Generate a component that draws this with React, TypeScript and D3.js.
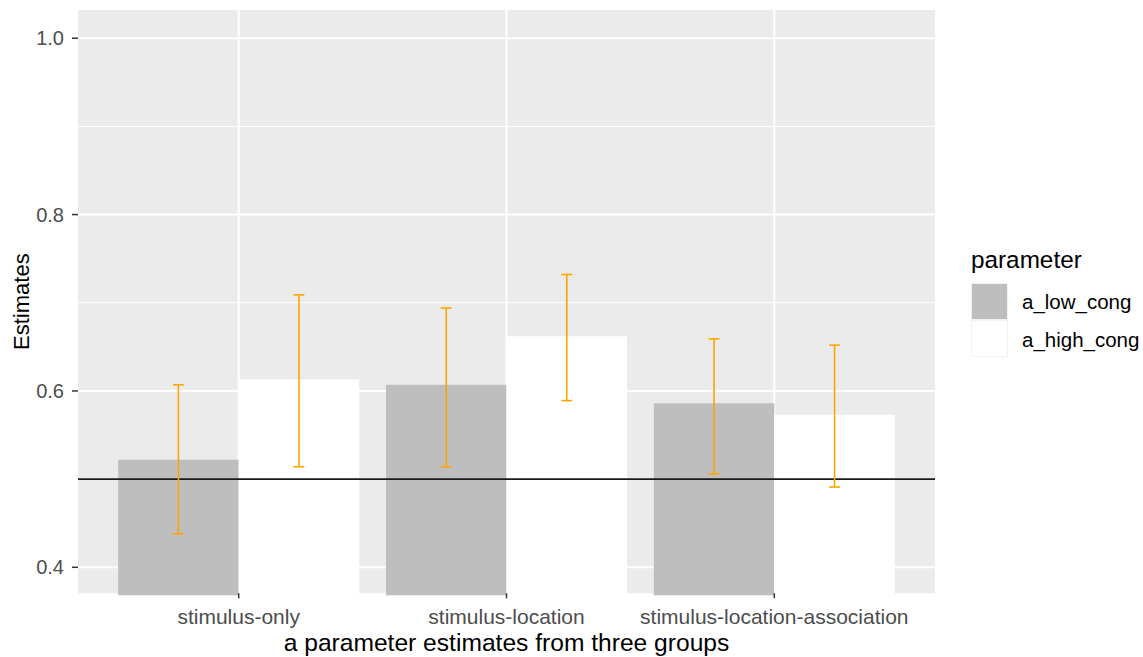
import React from "react";
import * as d3 from "d3";

const groups = ["stimulus-only", "stimulus-location", "stimulus-location-association"];
const parameters = ["a_low_cong", "a_high_cong"];
const lowEst = [0.522, 0.607, 0.586];
const highEst = [0.613, 0.662, 0.573];
const lowLower = [0.438, 0.514, 0.506];
const lowUpper = [0.607, 0.694, 0.659];
const highLower = [0.514, 0.589, 0.491];
const highUpper = [0.709, 0.732, 0.652];
const yMajorTicks = [0.4, 0.6, 0.8, 1.0];
const yMinorTicks = [0.5, 0.7, 0.9];
const refLine = 0.5;
const fills = ["#BEBEBE", "#FFFFFF"];

const W = 1143;
const H = 657;
const panel = { left: 78, right: 935, top: 10, bottom: 593.3 };
const FONT = "'Liberation Sans', Arial, sans-serif";

export default function App() {
  const y = d3.scaleLinear().domain([0.3705, 1.032]).range([panel.bottom, panel.top]);
  const x = d3.scalePoint<string>().domain(groups).range([panel.left, panel.right]).padding(0.6);
  const step = x.step();
  const dodge = d3
    .scaleBand<string>()
    .domain(parameters)
    .range([-0.45 * step, 0.45 * step]);
  const bw = dodge.bandwidth();
  const capW = bw * 0.09;

  const rows = groups.flatMap((g, i) => [
    { g, p: parameters[0], est: lowEst[i], lo: lowLower[i], hi: lowUpper[i], fill: fills[0] },
    { g, p: parameters[1], est: highEst[i], lo: highLower[i], hi: highUpper[i], fill: fills[1] },
  ]);
  const base = y.range()[0] + 2;

  return (
    <svg width={W} height={H} style={{ position: "absolute", left: 0, top: 0, background: "#fff" }} fontFamily={FONT}>
      <rect x={panel.left} y={panel.top} width={panel.right - panel.left} height={panel.bottom - panel.top} fill="#EBEBEB" />
      {yMinorTicks.map((t) => (
        <line key={"mn" + t} x1={panel.left} x2={panel.right} y1={y(t)} y2={y(t)} stroke="#fff" strokeWidth={1} />
      ))}
      {yMajorTicks.map((t) => (
        <line key={"mj" + t} x1={panel.left} x2={panel.right} y1={y(t)} y2={y(t)} stroke="#fff" strokeWidth={2} />
      ))}
      {groups.map((g) => (
        <line key={"vg" + g} x1={x(g)} x2={x(g)} y1={panel.top} y2={panel.bottom} stroke="#fff" strokeWidth={2} />
      ))}
      {rows.map((r) => {
        const x0 = (x(r.g) as number) + (dodge(r.p) as number);
        return <rect key={"b" + r.g + r.p} x={x0} y={y(r.est)} width={bw} height={base - y(r.est)} fill={r.fill} />;
      })}
      <line x1={panel.left} x2={panel.right} y1={y(refLine)} y2={y(refLine)} stroke="#1a1a1a" strokeWidth={1.7} />
      {rows.map((r) => {
        const cx = (x(r.g) as number) + (dodge(r.p) as number) + bw / 2;
        return (
          <g key={"e" + r.g + r.p} stroke="#FFA500" strokeWidth={1.6}>
            <line x1={cx} x2={cx} y1={y(r.hi)} y2={y(r.lo)} />
            <line x1={cx - capW / 2} x2={cx + capW / 2} y1={y(r.hi)} y2={y(r.hi)} />
            <line x1={cx - capW / 2} x2={cx + capW / 2} y1={y(r.lo)} y2={y(r.lo)} />
          </g>
        );
      })}
      {yMajorTicks.map((t) => (
        <g key={"yt" + t}>
          <line x1={panel.left - 6} x2={panel.left} y1={y(t)} y2={y(t)} stroke="#333" strokeWidth={1.5} />
          <text x={panel.left - 14} y={y(t)} dy="0.36em" textAnchor="end" fontSize={20} fill="#4D4D4D">
            {d3.format(".1f")(t)}
          </text>
        </g>
      ))}
      {groups.map((g) => (
        <g key={"xt" + g}>
          <line x1={x(g)} x2={x(g)} y1={panel.bottom} y2={panel.bottom + 5} stroke="#333" strokeWidth={1.5} />
          <text x={x(g)} y={panel.bottom + 31} textAnchor="middle" fontSize={21} fill="#4D4D4D">
            {g}
          </text>
        </g>
      ))}
      <text x={(panel.left + panel.right) / 2} y={651} textAnchor="middle" fontSize={24.6} fill="#000">
        a parameter estimates from three groups
      </text>
      <text
        transform={`translate(29,${(panel.top + panel.bottom) / 2}) rotate(-90)`}
        textAnchor="middle"
        fontSize={22}
        fill="#000"
      >
        Estimates
      </text>
      <g>
        <text x={971} y={268} fontSize={24.3} fill="#000">
          parameter
        </text>
        {parameters.map((p, i) => (
          <g key={"lg" + p}>
            <rect x={971} y={283 + i * 37} width={37} height={37} fill="#F2F2F2" />
            <rect x={972} y={284 + i * 37} width={35} height={35} fill={fills[i]} />
            <text x={1022} y={302 + i * 38} dy="0.36em" fontSize={20.5} fill="#000">
              {p}
            </text>
          </g>
        ))}
      </g>
    </svg>
  );
}
